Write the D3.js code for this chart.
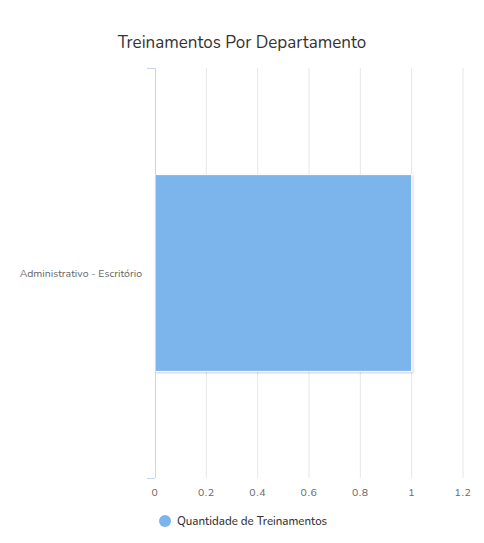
<!DOCTYPE html>
<html>
<head>
<meta charset="utf-8">
<script src="https://cdn.jsdelivr.net/npm/d3@7"></script>
<style>
  body { margin: 0; background: #fff; }
  svg { font-family: "Nunito", "Lato", "Noto Sans", sans-serif; }
</style>
</head>
<body>
<svg id="chart" width="484" height="543"></svg>
<script>
const categories = ["Administrativo - Escritório"];
const values = [1];
const seriesName = "Quantidade de Treinamentos";
const xTicks = [0, 0.2, 0.4, 0.6, 0.8, 1, 1.2];

const width = 484, height = 543;
const margin = { top: 68, right: 21, bottom: 65, left: 155 };
const svg = d3.select("#chart");

const defs = svg.append("defs");
const filter = defs.append("filter").attr("id", "shadow")
  .attr("x", "-10%").attr("y", "-10%").attr("width", "120%").attr("height", "120%");
filter.append("feDropShadow").attr("dx", 1).attr("dy", 1)
  .attr("stdDeviation", 1).attr("flood-color", "#000").attr("flood-opacity", 0.2);

const x = d3.scaleLinear().domain([0, 1.2]).range([margin.left, width - margin.right]);

// title
svg.append("text")
  .attr("x", width / 2).attr("y", 48)
  .attr("text-anchor", "middle")
  .attr("font-size", 17).attr("fill", "#333")
  .text("Treinamentos Por Departamento");

// gridlines
svg.append("g").selectAll("line")
  .data(xTicks.filter(d => d > 0))
  .join("line")
  .attr("x1", d => x(d)).attr("x2", d => x(d))
  .attr("y1", margin.top).attr("y2", height - margin.bottom)
  .attr("stroke", "#e6e6e6").attr("stroke-width", 1);

// bars (Highcharts-like padding: groupPadding 0.2, pointPadding 0.1)
const band = (height - margin.bottom - margin.top) / categories.length;
svg.append("g").selectAll("rect")
  .data(categories)
  .join("rect")
  .attr("x", x(0))
  .attr("y", (d) => margin.top + band * categories.indexOf(d) + band * 0.2 + band * 0.6 * 0.1)
  .attr("width", (d, i) => x(values[i]) - x(0))
  .attr("height", band * 0.6 * 0.8)
  .attr("fill", "#7cb5ec")
  .attr("stroke", "#fff").attr("stroke-width", 1)
  .attr("filter", "url(#shadow)");

// category axis
const yAxis = svg.append("g");
yAxis.append("line")
  .attr("x1", x(0) + 0.5).attr("x2", x(0) + 0.5)
  .attr("y1", margin.top).attr("y2", height - margin.bottom)
  .attr("stroke", "#ccd6eb");
yAxis.selectAll("line.tick")
  .data([margin.top, height - margin.bottom])
  .join("line").attr("class", "tick")
  .attr("x1", x(0) - 8).attr("x2", x(0))
  .attr("y1", d => d + 0.5).attr("y2", d => d + 0.5)
  .attr("stroke", "#ccd6eb");
yAxis.selectAll("text")
  .data(categories)
  .join("text")
  .attr("x", x(0) - 13)
  .attr("y", d => margin.top + band * categories.indexOf(d) + band / 2)
  .attr("dy", "0.35em")
  .attr("text-anchor", "end")
  .attr("font-size", 10.5).attr("fill", "#666")
  .text(d => d);

// value axis labels
svg.append("g").selectAll("text")
  .data(xTicks)
  .join("text")
  .attr("x", d => x(d)).attr("y", 496)
  .attr("text-anchor", "middle")
  .attr("font-size", 10.5).attr("fill", "#666")
  .attr("letter-spacing", 0.6)
  .text(d => d);

// legend
const legend = svg.append("g");
legend.append("circle")
  .attr("cx", 165).attr("cy", 521).attr("r", 6)
  .attr("fill", "#7cb5ec");
legend.append("text")
  .attr("x", 177).attr("y", 521).attr("dy", "0.35em")
  .attr("font-size", 11.5).attr("font-weight", 500).attr("fill", "#333")
  .text(seriesName);
</script>
</body>
</html>
